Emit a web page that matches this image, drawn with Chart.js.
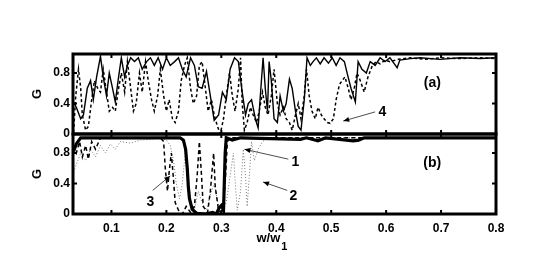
<!DOCTYPE html>
<html><head><meta charset="utf-8">
<script src="https://cdn.jsdelivr.net/npm/chart.js@4"></script>
<style>
html,body{margin:0;padding:0;background:#fff;}
#wrap{position:relative;width:545px;height:269px;}
canvas{position:absolute;left:0;top:0;}
</style></head>
<body><div id="wrap"><canvas id="ca" width="545" height="269"></canvas><canvas id="cb" width="545" height="269"></canvas></div>
<script>
// ---- data (x = w/w1, y = G) ----
const xTicks = [0.1,0.2,0.3,0.4,0.5,0.6,0.7,0.8];
const yTicks = [0,0.4,0.8];

// panel (a) solid
const aSolidX = [0.031,0.036,0.044,0.049,0.056,0.062,0.067,0.073,0.080,0.085,0.091,0.096,0.102,0.107,0.113,0.118,0.124,0.129,0.135,0.142,0.149,0.156,0.164,0.171,0.178,0.185,0.193,0.200,0.207,0.215,0.222,0.229,0.236,0.244,0.251,0.258,0.265,0.273,0.280,0.287,0.295,0.302,0.309,0.316,0.324,0.331,0.338,0.344,0.349,0.355,0.362,0.367,0.371,0.376,0.380,0.384,0.387,0.391,0.396,0.402,0.407,0.413,0.418,0.424,0.429,0.435,0.440,0.445,0.451,0.456,0.462,0.467,0.473,0.480,0.487,0.495,0.502,0.509,0.516,0.524,0.529,0.536,0.544,0.549,0.556,0.564,0.571,0.580,0.589,0.598,0.607,0.615,0.620,0.625,0.644,0.662,0.698,0.735,0.771,0.800];
const aSolidG = [0.42,0.35,0.2,0.25,0.6,0.7,0.45,0.75,1.02,0.75,0.5,0.8,0.6,0.42,0.75,1.0,0.75,0.9,1.0,0.95,1.0,0.85,0.95,1.0,0.9,1.0,0.85,1.0,0.9,0.95,1.0,0.85,0.75,1.0,0.9,0.62,0.6,0.82,0.5,0.18,0.25,0.55,0.45,0.85,1.0,0.95,0.55,0.25,0.4,0.45,0.2,0.08,0.5,1.0,0.6,0.3,0.95,0.7,0.2,0.15,0.5,0.3,0.4,0.72,0.6,0.3,0.1,0.05,0.45,1.0,0.9,0.95,1.0,0.92,1.0,0.93,1.0,0.9,1.0,0.95,0.8,0.6,0.42,0.95,0.85,0.8,0.95,0.9,1.0,0.95,1.0,0.92,0.87,0.97,0.99,1.0,0.98,1.0,0.99,1.0];

// panel (a) dashed (curve 4)
const aDashX = [0.031,0.035,0.040,0.044,0.047,0.053,0.058,0.064,0.069,0.075,0.080,0.085,0.091,0.096,0.102,0.107,0.113,0.118,0.124,0.129,0.135,0.140,0.145,0.151,0.156,0.162,0.167,0.173,0.178,0.184,0.189,0.195,0.200,0.205,0.211,0.216,0.222,0.227,0.233,0.238,0.244,0.249,0.255,0.260,0.265,0.271,0.276,0.282,0.287,0.293,0.298,0.304,0.309,0.315,0.320,0.325,0.331,0.335,0.338,0.342,0.347,0.353,0.358,0.364,0.369,0.375,0.380,0.385,0.391,0.396,0.402,0.407,0.413,0.418,0.424,0.429,0.435,0.440,0.445,0.451,0.455,0.460,0.465,0.471,0.476,0.482,0.487,0.493,0.498,0.504,0.509,0.515,0.520,0.525,0.531,0.536,0.542,0.547,0.553,0.560,0.567,0.575,0.582,0.589,0.598,0.607,0.622,0.644,0.671,0.698,0.735,0.771,0.800];
const aDashG = [0.02,0.5,0.85,0.6,0.25,0.05,0.1,0.45,0.7,0.6,0.55,0.85,0.55,0.3,0.35,0.3,0.6,0.8,0.55,0.95,0.6,0.3,0.4,0.8,0.55,0.95,0.7,0.45,0.3,0.5,0.85,0.5,0.3,0.45,0.2,0.15,0.3,0.7,0.9,1.0,0.6,0.4,0.5,0.9,0.95,0.6,0.3,0.45,0.25,0.1,0.0,0.2,0.5,0.8,0.5,0.3,0.6,1.0,0.4,0.05,0.15,0.35,0.25,0.15,0.3,0.55,0.35,0.25,0.5,0.85,0.4,0.25,0.35,0.2,0.15,0.05,0.25,0.4,0.2,0.5,0.85,0.5,0.3,0.2,0.35,0.25,0.2,0.15,0.14,0.2,0.45,0.65,0.7,0.75,0.6,0.45,0.6,0.8,0.7,0.55,0.75,0.9,0.95,0.92,0.97,0.95,0.98,1.0,0.98,1.0,0.99,1.0,0.99];

// panel (b) curve 1 (thick solid)
const b1X = [0.031,0.036,0.044,0.100,0.200,0.225,0.231,0.235,0.238,0.240,0.242,0.247,0.255,0.271,0.284,0.291,0.296,0.300,0.304,0.305,0.307,0.309,0.320,0.335,0.444,0.455,0.476,0.490,0.540,0.550,0.560,0.800];
const b1G = [0.82,0.92,1.0,1.0,1.0,1.0,0.97,0.85,0.6,0.35,0.2,0.06,0.01,0.0,0.02,0.0,0.08,0.11,0.05,0.3,0.8,1.0,0.97,1.0,0.98,1.0,0.96,1.0,0.96,0.97,1.0,1.0];

// panel (b) curve 2 (dotted)
const b2X = [0.031,0.036,0.044,0.053,0.062,0.071,0.080,0.089,0.098,0.107,0.116,0.135,0.153,0.171,0.189,0.200,0.207,0.213,0.218,0.224,0.229,0.235,0.240,0.245,0.251,0.258,0.265,0.273,0.280,0.287,0.295,0.302,0.309,0.316,0.322,0.325,0.329,0.335,0.340,0.344,0.347,0.351,0.355,0.360,0.367,0.375,0.385,0.800];
const b2G = [0.55,0.65,0.8,0.7,0.85,0.75,0.9,0.8,0.92,0.85,0.95,0.93,0.97,0.98,1.0,0.97,0.9,0.7,0.4,0.2,0.4,0.85,0.5,0.15,0.05,0.3,0.15,0.05,0.25,0.4,0.1,0.05,0.15,0.5,0.8,0.45,0.05,0.3,0.85,0.5,0.1,0.5,0.95,0.7,0.85,0.95,1.0,1.0];

// panel (b) curve 3 (dashed)
const b3X = [0.031,0.036,0.042,0.047,0.053,0.058,0.064,0.071,0.080,0.150,0.189,0.195,0.198,0.202,0.205,0.209,0.213,0.216,0.222,0.229,0.236,0.244,0.251,0.256,0.260,0.264,0.267,0.275,0.280,0.286,0.289,0.295,0.302,0.307,0.311,0.316,0.800];
const b3G = [0.9,0.8,0.95,0.75,0.9,0.72,0.95,0.85,1.0,1.0,1.0,0.95,0.6,0.3,0.55,0.8,0.45,0.15,0.05,0.0,0.1,0.02,0.1,0.5,0.95,0.5,0.1,0.02,0.3,0.8,0.35,0.05,0.0,0.4,0.95,1.0,1.0];

// annotations (data units)
const notesA = [{t:'(a)', x:0.684, y:0.67}, {t:'4', x:0.593, y:0.29, from:[0.580,0.29], to:[0.522,0.17]}];
const notesB = [{t:'(b)', x:0.684, y:0.67},
  {t:'1', x:0.435, y:0.68, from:[0.422,0.72], to:[0.342,0.85]},
  {t:'2', x:0.431, y:0.24, from:[0.420,0.31], to:[0.376,0.42]},
  {t:'3', x:0.171, y:0.16, from:[0.175,0.31], to:[0.207,0.50]}];

const pts = (xs, ys) => xs.map((x,i)=>({x, y:ys[i]}));
const FONT = 'Liberation Sans, Arial, Helvetica, sans-serif';

function framePlugin(notes, xLabel){
  return {
    id:'frame',
    afterDraw(chart){
      const {ctx, chartArea:a, scales:{x,y}} = chart;
      ctx.save();
      ctx.strokeStyle='#000'; ctx.fillStyle='#000';
      ctx.lineWidth=3;
      ctx.strokeRect(a.left, a.top, a.right-a.left, a.bottom-a.top);
      ctx.lineWidth=2;
      xTicks.forEach(v=>{const px=x.getPixelForValue(v);
        ctx.beginPath();ctx.moveTo(px,a.bottom);ctx.lineTo(px,a.bottom-4);
        ctx.moveTo(px,a.top);ctx.lineTo(px,a.top+4);ctx.stroke();});
      yTicks.slice(1).forEach(v=>{const py=y.getPixelForValue(v);
        ctx.beginPath();ctx.moveTo(a.left,py);ctx.lineTo(a.left+4,py);
        ctx.moveTo(a.right,py);ctx.lineTo(a.right-4,py);ctx.stroke();});
      ctx.textAlign='center'; ctx.textBaseline='middle';
      notes.forEach(n=>{
        ctx.font='bold 14px '+FONT;
        ctx.fillText(n.t, x.getPixelForValue(n.x), y.getPixelForValue(n.y));
        if(n.from){
          const x0=x.getPixelForValue(n.from[0]), y0=y.getPixelForValue(n.from[1]);
          const x1=x.getPixelForValue(n.to[0]), y1=y.getPixelForValue(n.to[1]);
          ctx.lineWidth=0.8; ctx.strokeStyle='#222';
          ctx.beginPath();ctx.moveTo(x0,y0);ctx.lineTo(x1,y1);ctx.stroke();
          const ang=Math.atan2(y1-y0,x1-x0), L=6, W=2.5;
          ctx.beginPath();ctx.moveTo(x1,y1);
          ctx.lineTo(x1-L*Math.cos(ang)+W*Math.sin(ang), y1-L*Math.sin(ang)-W*Math.cos(ang));
          ctx.lineTo(x1-L*Math.cos(ang)-W*Math.sin(ang), y1-L*Math.sin(ang)+W*Math.cos(ang));
          ctx.closePath();ctx.fill();
        }
      });
      if(xLabel){
        const cx = x.getPixelForValue(0.4);
        ctx.font='bold 13px '+FONT; ctx.textAlign='right';
        ctx.fillText('w/w', cx+4, 238);
        ctx.font='bold 11px '+FONT; ctx.textAlign='left';
        ctx.fillText('1', cx+5, 247);
      }
      ctx.restore();
    }
  };
}

function yScale(){
  return {
    type:'linear', min:0, max:1.05,
    afterBuildTicks(s){ s.ticks = yTicks.map(v=>({value:v})); },
    afterFit(s){ s.width = 73; },
    grid:{display:false, drawTicks:false}, border:{display:false},
    ticks:{color:'#000', padding:3, font:{family:FONT, size:12, weight:'bold'},
      callback:v=> v===0 ? '0' : String(v)},
    title:{display:true, text:'G', color:'#000', padding:{top:30,bottom:0},
      font:{family:FONT, size:13, weight:'bold'}}
  };
}

function baseOpts(padding, showX){
  return {
    responsive:false, animation:false, devicePixelRatio:1,
    layout:{padding},
    plugins:{legend:{display:false}, tooltip:{enabled:false}},
    elements:{point:{radius:0}, line:{tension:0}},
    scales:{
      x:{type:'linear', min:0.03, max:0.8, display:showX,
        afterBuildTicks(s){ s.ticks = xTicks.map(v=>({value:v})); },
        afterFit(s){ s.height = showX ? 55 : 0; },
        grid:{display:false, drawTicks:false}, border:{display:false},
        ticks:{color:'#000', padding:7, maxRotation:0, autoSkip:false,
          font:{family:FONT, size:12, weight:'bold'}, callback:v=>String(v)}},
      y: yScale()
    }
  };
}

new Chart(document.getElementById('ca'), {
  type:'line',
  data:{datasets:[
    {data:pts(aSolidX,aSolidG), borderColor:'#000', borderWidth:1.4},
    {data:pts(aDashX,aDashG), borderColor:'#000', borderWidth:1.5, borderDash:[3,2.5]}
  ]},
  options: baseOpts({left:0,right:49,top:54,bottom:135}, false),
  plugins:[framePlugin(notesA,false)]
});

new Chart(document.getElementById('cb'), {
  type:'line',
  data:{datasets:[
    {data:pts(b1X,b1G), borderColor:'#000', borderWidth:3.2},
    {data:pts(b3X,b3G), borderColor:'#000', borderWidth:1.5, borderDash:[4,3]},
    {data:pts(b2X,b2G), borderColor:'#777', borderWidth:1, borderDash:[1,2]}
  ]},
  options: baseOpts({left:0,right:49,top:134,bottom:0}, true),
  plugins:[framePlugin(notesB,true)]
});
</script></body></html>
